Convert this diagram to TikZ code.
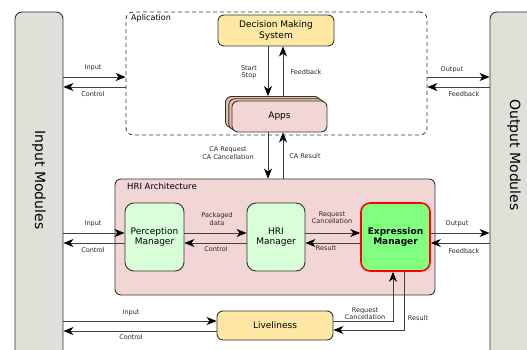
\documentclass[tikz,border=0pt]{standalone}
\usepackage{fontspec}
\setmainfont{DejaVu Sans}
\usetikzlibrary{arrows.meta,calc}
\definecolor{modfill}{HTML}{E0E0D8}
\definecolor{yel}{HTML}{FFE8A4}
\definecolor{pinkf}{HTML}{F2D5D5}
\definecolor{salm}{HTML}{E8C0A8}
\definecolor{lgreen}{HTML}{D8FFD8}
\definecolor{bgreen}{HTML}{80FF80}
\definecolor{edge}{HTML}{333333}
\tikzset{
  box/.style={draw=edge, line width=0.9pt, rounded corners=6pt, inner sep=0pt, align=center},
  modbox/.style={box, fill=modfill, rounded corners=7pt},
  arr/.style={draw=black!75, line width=0.8pt, -{Stealth[length=10pt,width=8pt,inset=3pt,color=black]}},
  lbl/.style={font=\fontsize{6.5}{7.3}\selectfont, align=center, inner sep=0pt, text=black!85},
  ntext/.style={font=\fontsize{9}{10.5}\selectfont},
}
\begin{document}
\begin{tikzpicture}[x=1pt,y=-1pt]
\useasboundingbox (0,0) rectangle (527,350);
\clip (0,0) rectangle (527,350);
% modules
\node[modbox, minimum width=48pt, minimum height=346pt] (inmod) at (39,185) {};
\node[rotate=-90, font=\fontsize{14}{16}\selectfont] (inmodt) at (39,180) {Input Modules};
\node[modbox, minimum width=50pt, minimum height=346pt] (outmod) at (515,185) {};
\node[rotate=-90, font=\fontsize{14}{16}\selectfont] (outmodt) at (514,155) {Output Modules};
% application
\node[draw=edge, dash pattern=on 4pt off 3pt, line width=0.8pt, rounded corners=7pt, minimum width=301pt, minimum height=123pt, inner sep=0pt] (app) at (276.5,73.5) {};
\node[anchor=north west, inner sep=0pt, font=\fontsize{8}{9}\selectfont] (appt) at (131,14) {Aplication};
\node[box, fill=yel, minimum width=116pt, minimum height=31pt, ntext] (dms) at (276,30.5) {Decision Making\\System};
\node[box, fill=salm, minimum width=95pt, minimum height=31pt] (apps3) at (273,112) {};
\node[box, fill=salm, minimum width=95pt, minimum height=31pt] (apps2) at (276.3,114.3) {};
\node[box, fill=pinkf, minimum width=95pt, minimum height=31pt, ntext] (apps) at (279.5,116.5) {Apps};
% HRI
\node[box, fill=pinkf, minimum width=320pt, minimum height=116pt] (hri) at (275,237) {};
\node[anchor=north west, inner sep=0pt, font=\fontsize{8.5}{10}\selectfont] (hrit) at (127,183) {HRI Architecture};
\node[box, fill=lgreen, minimum width=59pt, minimum height=68pt, rounded corners=9pt, ntext] (pm) at (154.5,237) {Perception\\Manager};
\node[box, fill=lgreen, minimum width=58pt, minimum height=68pt, rounded corners=9pt, ntext] (hrim) at (276,237) {HRI\\Manager};
\node[box, draw=red, line width=1.6pt, fill=bgreen, minimum width=69pt, minimum height=68pt, rounded corners=9pt, font=\fontsize{9}{10.5}\selectfont\bfseries] (em) at (395.5,237) {Expression\\Manager};
\node[box, fill=yel, minimum width=116pt, minimum height=29pt, ntext] (live) at (275,325.5) {Liveliness};
% application arrows
\draw[arr] (inmod.east |- 0,77) -- (app.west |- 0,77);
\draw[arr] (app.west |- 0,87) -- (inmod.east |- 0,87);
\node[lbl] (l1) at (93,68) {Input};
\node[lbl] (l2) at (93,94) {Control};
\draw[arr] (app.east |- 0,77) -- (outmod.west |- 0,77);
\draw[arr] (outmod.west |- 0,87) -- (app.east |- 0,87);
\node[lbl] (l3) at (452,70) {Output};
\node[lbl] (l4) at (464,94) {Feedback};
\draw[arr] (dms.south -| 268,0) -- (apps3.north -| 268,0);
\draw[arr] (apps3.north -| 283,0) -- (dms.south -| 283,0);
\node[lbl] (l5) at (249,72) {Start\\Stop};
\node[lbl] (l6) at (306,72) {Feedback};
\draw[arr] (apps.south -| 268,0) -- (hri.north -| 268,0);
\draw[arr] (hri.north -| 283,0) -- (apps.south -| 283,0);
\node[lbl] (l7) at (228,153) {CA Request\\CA Cancellation};
\node[lbl] (l8) at (305,156) {CA Result};
% HRI arrows
\draw[arr] (inmod.east |- 0,233) -- (pm.west |- 0,233);
\draw[arr] (pm.west |- 0,243) -- (inmod.east |- 0,243);
\node[lbl] (l9) at (93,224) {Input};
\node[lbl] (l10) at (93,250) {Control};
\draw[arr] (pm.east |- 0,233) -- (hrim.west |- 0,233);
\draw[arr] (hrim.west |- 0,243) -- (pm.east |- 0,243);
\node[lbl] (l11) at (217,219) {Packaged\\data};
\node[lbl] (l12) at (216,249) {Control};
\draw[arr] (hrim.east |- 0,233) -- (em.west |- 0,233);
\draw[arr] (em.west |- 0,243) -- (hrim.east |- 0,243);
\node[lbl] (l13) at (332,218) {Request\\Cancellation};
\node[lbl] (l14) at (326,248) {Result};
\draw[arr] (em.east |- 0,233) -- (outmod.west |- 0,233);
\draw[arr] (outmod.west |- 0,243) -- (em.east |- 0,243);
\node[lbl] (l15) at (457,224) {Output};
\node[lbl] (l16) at (464,251) {Feedback};
% liveliness arrows
\draw[arr] (inmod.east |- 0,321) -- (live.west |- 0,321);
\draw[arr] (live.west |- 0,331) -- (inmod.east |- 0,331);
\node[lbl] (l17) at (131,313) {Input};
\node[lbl] (l18) at (131,337) {Control};
\draw[arr] (live.east |- 0,321) -| (em.south -| 393,0);
\draw[arr] (em.south -| 404,0) |- (live.east |- 0,330);
\node[lbl] (l19) at (365,314) {Request\\Cancellation};
\node[lbl] (l20) at (418,318) {Result};
\end{tikzpicture}
\end{document}
